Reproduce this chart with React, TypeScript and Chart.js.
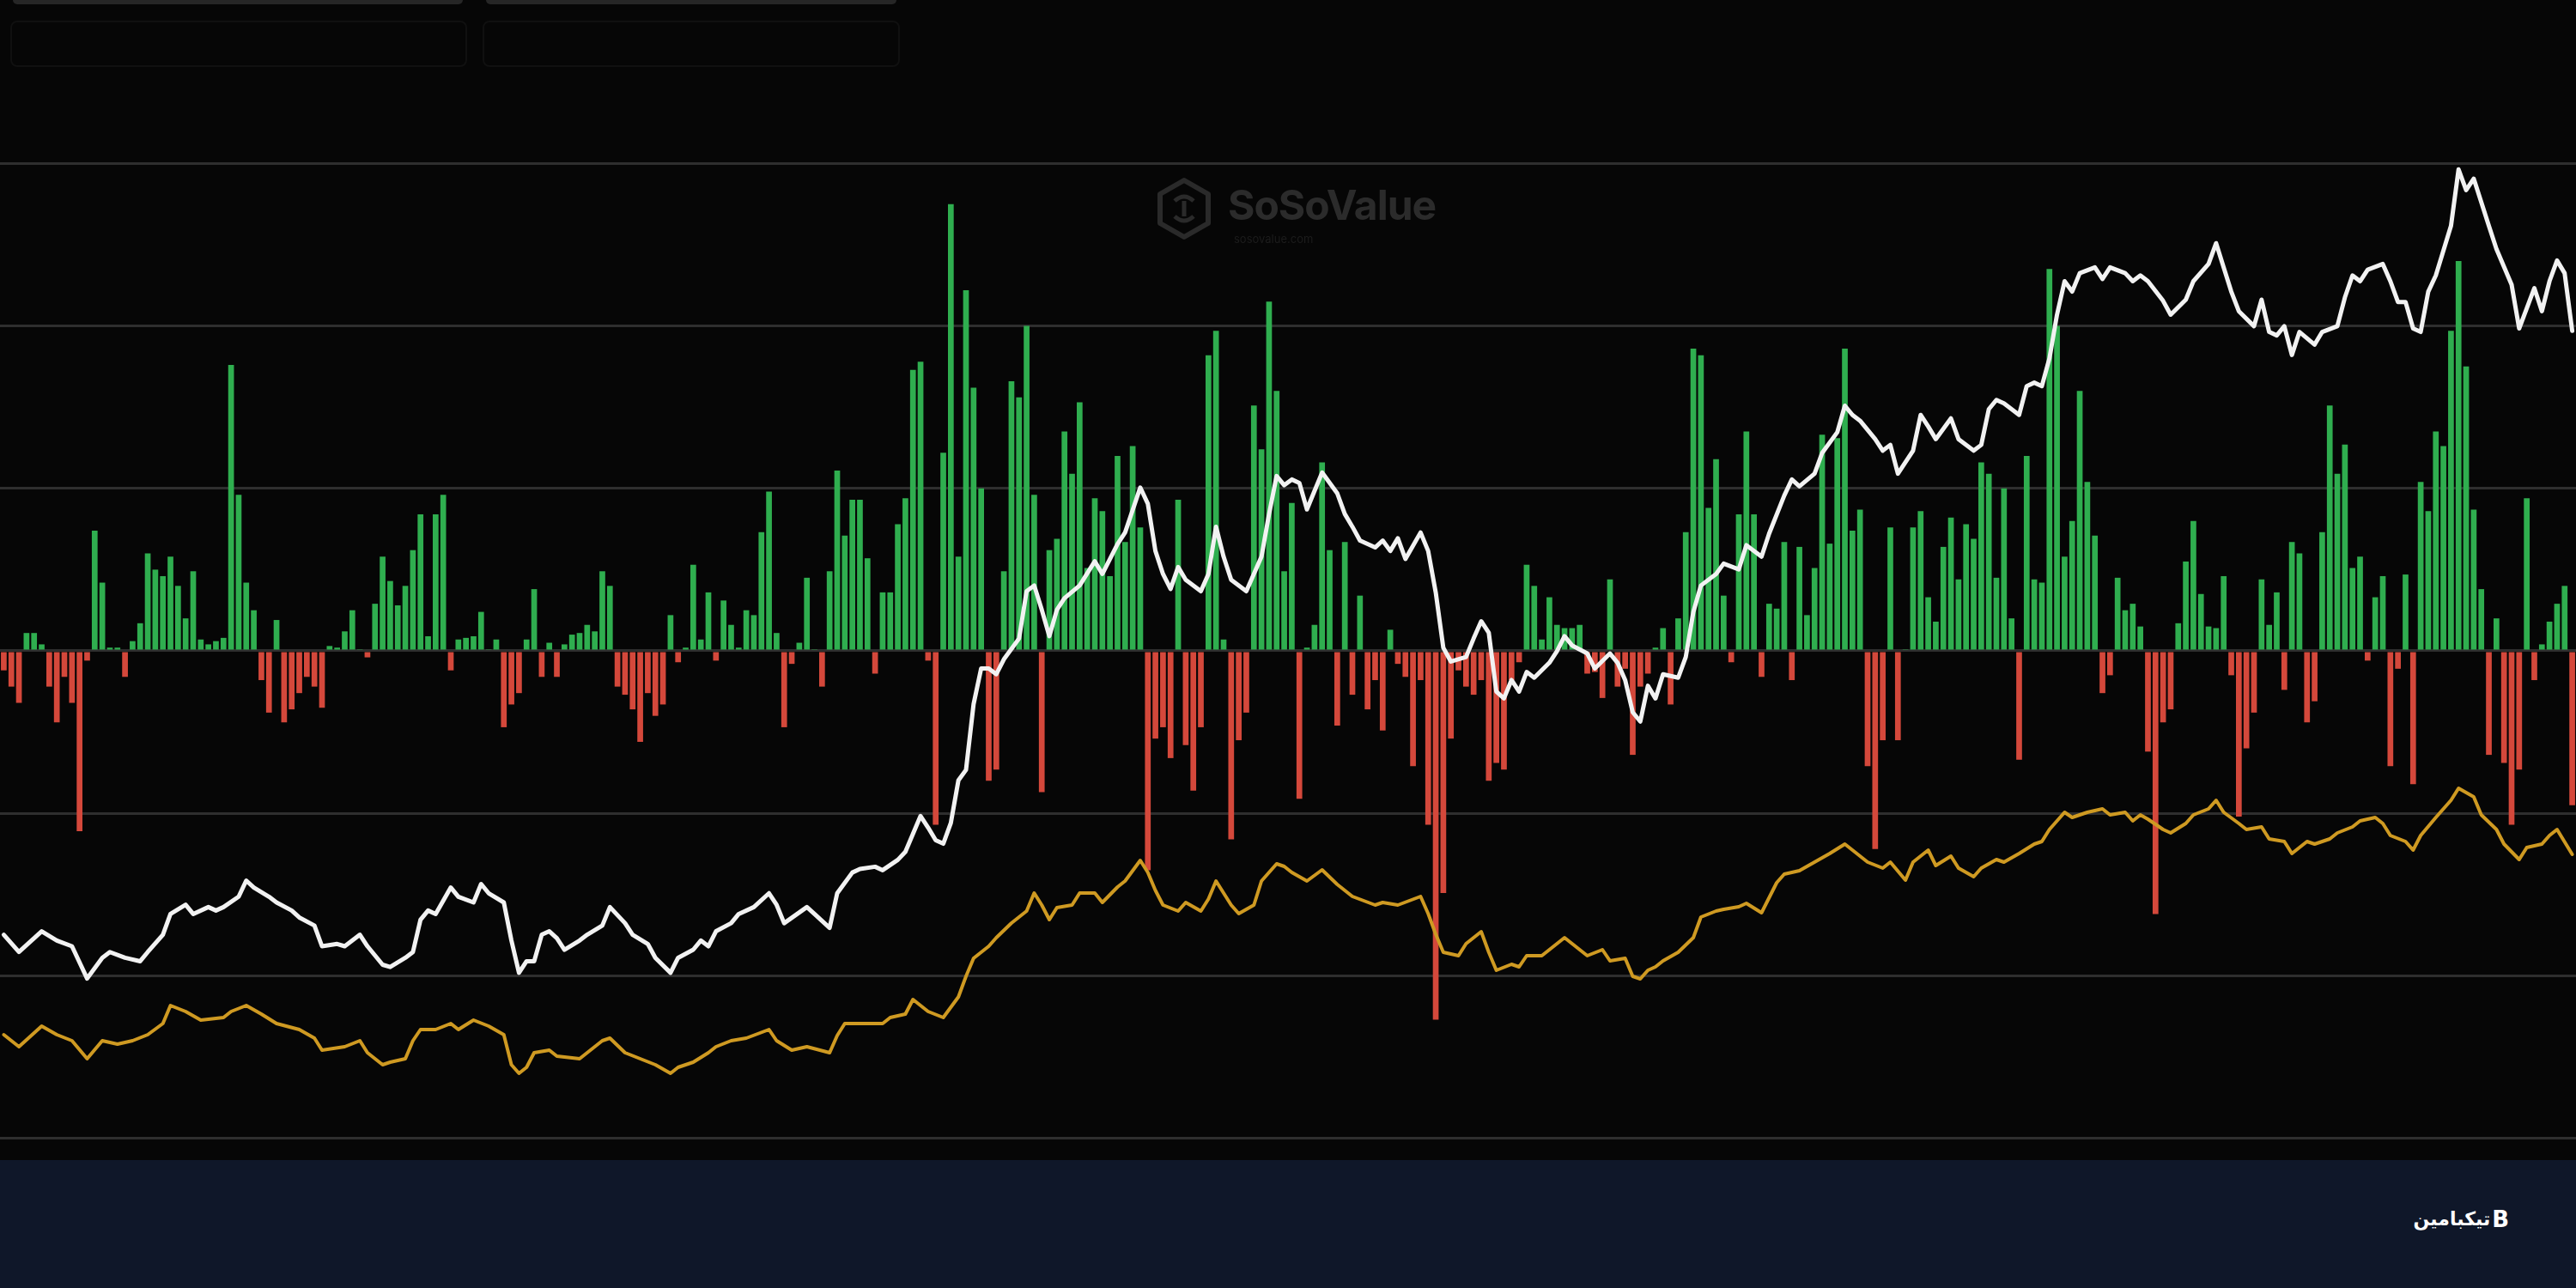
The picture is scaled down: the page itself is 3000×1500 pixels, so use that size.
import React, { useEffect, useRef } from "react";
import { Chart, registerables } from "chart.js";

Chart.register(...registerables);

// Daily net flow ($M), one bar per trading day
const NET_FLOW = [
  -60, -110, -160, 55, 55, 20, -110, -220, -80, -160,
  -555, -30, 370, 210, 10, 10, -80, 30, 85, 300,
  250, 230, 290, 200, 100, 245, 35, 20, 30, 40,
  880, 480, 210, 125, -90, -190, 95, -220, -180, -130,
  -80, -110, -175, 15, 10, 60, 125, 5, -20, 145,
  290, 215, 140, 200, 310, 420, 45, 420, 480, -60,
  35, 40, 45, 120, 5, 35, -235, -165, -130, 35,
  190, -80, 25, -80, 20, 50, 55, 80, 60, 245,
  200, -110, -135, -180, -280, -130, -200, -165, 110, -35,
  10, 265, 35, 180, -30, 155, 80, 10, 125, 110,
  365, 490, 55, -235, -40, 25, 225, 5, -110, 245,
  555, 355, 465, 465, 285, -70, 180, 180, 390, 470,
  865, 890, -30, -535, 610, 1375, 290, 1110, 810, 500,
  -400, -365, 245, 830, 780, 1000, 480, -435, 310, 345,
  675, 545, 765, 255, 470, 430, 230, 600, 335, 630,
  380, -675, -270, -235, -330, 465, -290, -430, -235, 910,
  985, 35, -580, -275, -190, 755, 620, 1075, 800, 245,
  455, -455, 10, 80, 580, 310, -230, 335, -135, 170,
  -180, -90, -245, 65, -40, -80, -355, -90, -535, -1135,
  -745, -270, -60, -110, -135, -90, -400, -345, -365, -90,
  -35, 265, 200, 35, 165, 80, 70, 70, 80, -70,
  -65, -145, 220, -110, -55, -320, -110, -70, 10, 70,
  -165, 100, 365, 930, 910, 440, 590, 170, -35, 420,
  675, 420, -80, 145, 130, 335, -90, 320, 110, 255,
  665, 330, 655, 930, 370, 435, -355, -610, -275, 380,
  -275, 5, 380, 430, 165, 90, 320, 410, 220, 390,
  345, 580, 545, 225, 500, 100, -335, 600, 220, 210,
  1175, 1000, 290, 400, 800, 520, 355, -130, -75, 225,
  125, 145, 75, -310, -810, -220, -180, 85, 275, 400,
  175, 75, 70, 230, -75, -510, -300, -190, 220, 80,
  180, -120, 335, 300, -220, -155, 365, 755, 545, 635,
  255, 290, -30, 165, 230, -355, -55, 235, -410, 520,
  430, 675, 630, 985, 1200, 875, 435, 190, -320, 100,
  -345, -535, -365, 470, -90, 20, 90, 145, 200, -475,
];

// BTC price ($K), read at these day indices
const PRICE_DAY = [
  0, 2, 5, 7, 9, 11, 13, 14, 16, 18, 19, 21, 22, 24, 25, 27, 28, 29, 31, 32, 33, 35, 36, 38, 39, 41, 42, 44, 45, 47, 48, 50, 51, 53, 54, 55, 56,
  57, 59, 60, 62, 63, 64, 66, 67, 68, 69, 70, 71, 72, 73, 74, 76, 77, 79, 80, 82, 83, 85, 86, 88, 89, 91, 92, 93, 94, 96, 97, 99, 101, 102, 103, 106, 107, 109, 110, 112,
  113, 115, 116, 118, 119, 121, 122, 123, 124, 125, 126, 127, 128, 129, 130, 131, 132, 134, 135, 136, 137, 138, 139, 140, 142, 144, 145, 147, 148, 150, 151, 152, 153, 154, 155, 156, 158, 159, 160, 161, 162, 164, 166, 167, 168, 169,
  170, 171, 172, 173, 174, 176, 177, 178, 179, 181, 182, 183, 184, 185, 187, 188, 189, 190, 191, 193, 194, 195, 196, 197, 198, 199, 200, 201, 202, 204, 205, 206, 207, 209, 210, 212, 213, 214, 215, 216, 217, 218, 219, 221, 222, 223, 224, 226,
  227, 229, 230, 232, 233, 235, 236, 237, 239, 240, 242, 243, 244, 245, 247, 248, 249, 250, 252, 253, 254, 255, 257, 258, 260, 261, 262, 263, 264, 266, 267, 268, 269, 270, 271, 272, 273, 274, 276, 277, 278, 280, 281, 282,
  283, 285, 286, 288, 289, 291, 292, 293, 294, 295, 297, 298, 299, 300, 301, 302, 303, 305, 306, 308, 309, 310, 311, 312, 314, 315, 316, 317, 318, 319, 320, 321, 323, 324, 325, 326, 328, 329, 331, 332, 334, 335, 336, 337, 338, 339,
];
const PRICE_K = [
  43.9, 42.4, 44.2, 43.4, 42.9, 40.1, 41.9, 42.4, 41.9, 41.6, 42.4, 43.9, 45.7, 46.5, 45.7, 46.3, 46.0, 46.3, 47.2, 48.6, 48.0, 47.2, 46.7, 46.0, 45.4, 44.7, 42.9, 43.1, 42.9, 43.9, 42.9, 41.3, 41.1, 41.9, 42.4, 45.2, 46.0,
  45.7, 48.0, 47.2, 46.7, 48.3, 47.5, 46.7, 43.4, 40.6, 41.6, 41.6, 43.9, 44.2, 43.6, 42.6, 43.4, 43.9, 44.7, 46.3, 44.9, 43.9, 43.1, 41.9, 40.6, 41.9, 42.6, 43.4, 42.9, 44.2, 44.9, 45.7, 46.3, 47.5, 46.5, 44.9, 46.3, 45.7, 44.5, 47.5, 49.3,
  49.6, 49.8, 49.5, 50.4, 51.1, 54.2, 53.2, 52.1, 51.8, 53.6, 57.3, 58.2, 63.9, 67.0, 67.0, 66.5, 67.8, 69.6, 73.7, 74.2, 72.1, 69.8, 72.1, 73.1, 74.2, 76.3, 75.2, 77.8, 78.8, 82.7, 81.3, 77.2, 75.2, 73.9, 75.8, 74.7, 73.7, 75.2, 79.3, 76.7, 74.7, 73.7, 76.7, 80.4, 83.7, 82.9,
  83.4, 83.1, 80.8, 82.4, 84.0, 82.2, 80.4, 79.3, 78.1, 77.5, 78.1, 77.2, 78.3, 76.5, 78.8, 77.2, 73.6, 68.8, 67.6, 68.0, 69.6, 71.1, 70.1, 65.0, 64.4, 66.0, 65.0, 66.7, 66.2, 67.5, 68.5, 69.8, 69.0, 68.3, 67.0, 68.3, 67.5, 66.0, 63.2, 62.4, 65.5, 64.4, 66.5, 66.2, 68.0, 71.9, 74.2, 75.2,
  76.1, 75.6, 77.7, 76.7, 78.7, 82.0, 83.4, 82.8, 83.9, 85.7, 87.5, 89.8, 89.0, 88.5, 86.9, 85.9, 86.4, 83.9, 85.9, 89.0, 88.0, 86.9, 88.7, 86.9, 85.9, 86.4, 89.5, 90.3, 90.0, 89.0, 91.5, 91.8, 91.5, 93.9, 97.7, 100.6, 99.7, 101.3, 101.8, 100.8, 101.8, 101.3, 100.6, 101.1,
  100.6, 98.9, 97.7, 99.0, 100.6, 102.1, 103.9, 101.8, 99.7, 98.0, 96.7, 99.0, 96.2, 95.9, 96.7, 94.2, 96.2, 95.1, 96.2, 96.7, 99.2, 101.1, 100.6, 101.6, 102.1, 100.6, 98.8, 98.8, 96.5, 96.2, 99.7, 101.1, 105.4, 110.3, 108.5, 109.5, 105.4, 103.4, 100.3, 96.5, 100.0, 98.0, 100.6, 102.4, 101.3, 96.3,
];

// Total net assets ($B), read at these day indices
const ASSET_DAY = [
  0, 2, 5, 7, 9, 11, 13, 15, 17, 19, 21, 22, 24, 26, 29, 30, 32, 34, 36, 39, 41, 42, 45, 47, 48, 50, 51, 53, 54, 55,
  57, 59, 60, 62, 64, 66, 67, 68, 69, 70, 72, 73, 76, 77, 79, 80, 82, 84, 86, 88, 89, 91, 93, 94, 96, 98, 101, 102, 104, 106, 109, 110, 111,
  113, 116, 117, 119, 120, 122, 124, 126, 127, 128, 130, 131, 133, 135, 136, 137, 138, 139, 141, 142, 144, 145, 147, 148, 150, 151, 152, 153, 155, 156, 158, 159, 160, 162, 163, 165, 166, 168, 169,
  170, 172, 174, 176, 178, 181, 182, 184, 187, 188, 189, 190, 192, 193, 195, 196, 197, 199, 200, 201, 203, 204, 206, 207, 209, 211, 212, 214, 215, 216, 217, 218, 219, 221, 223, 224, 226,
  227, 229, 230, 232, 234, 235, 237, 239, 241, 243, 244, 246, 248, 249, 251, 252, 254, 255, 257, 258, 260, 261, 263, 264, 266, 268, 269, 270, 272, 273, 275, 277, 278, 280, 281, 282,
  283, 285, 286, 288, 289, 291, 292, 293, 295, 296, 298, 299, 301, 302, 304, 305, 307, 308, 310, 311, 313, 314, 315, 317, 318, 319, 321, 323, 324, 326, 327, 329, 330, 332, 333, 335, 336, 337, 339,
];
const ASSET_B = [
  19.75, 19.05, 20.25, 19.75, 19.4, 18.35, 19.4, 19.2, 19.4, 19.75, 20.4, 21.45, 21.1, 20.6, 20.75, 21.1, 21.45, 20.95, 20.4, 20.05, 19.55, 18.85, 19.05, 19.4, 18.7, 18.0, 18.15, 18.35, 19.4, 20.05,
  20.05, 20.4, 20.05, 20.6, 20.25, 19.75, 18.0, 17.5, 17.85, 18.7, 18.85, 18.5, 18.35, 18.7, 19.4, 19.55, 18.7, 18.35, 18.0, 17.5, 17.85, 18.15, 18.7, 19.05, 19.4, 19.55, 20.05, 19.4, 18.85, 19.05, 18.7, 19.7, 20.4,
  20.4, 20.4, 20.75, 20.95, 21.8, 21.1, 20.75, 21.95, 23.15, 24.2, 24.9, 25.4, 26.25, 26.95, 28.0, 27.3, 26.45, 27.15, 27.3, 28.0, 28.0, 27.45, 28.35, 28.7, 29.9, 29.2, 28.15, 27.3, 26.95, 27.45, 26.95, 27.65, 28.7, 27.3, 26.8, 27.3, 28.7, 29.7, 29.55,
  29.2, 28.7, 29.35, 28.5, 27.8, 27.3, 27.45, 27.3, 27.8, 26.8, 25.6, 24.55, 24.35, 25.05, 25.75, 24.55, 23.5, 23.85, 23.7, 24.35, 24.35, 24.7, 25.4, 25.05, 24.35, 24.7, 24.05, 24.2, 23.15, 23.0, 23.5, 23.7, 24.05, 24.55, 25.4, 26.6, 26.95,
  27.05, 27.2, 27.4, 26.85, 28.6, 29.1, 29.3, 29.8, 30.3, 30.85, 30.5, 29.8, 29.45, 29.8, 28.75, 29.8, 30.5, 29.6, 30.15, 29.45, 28.95, 29.45, 29.95, 29.8, 30.3, 30.85, 31.0, 31.7, 32.7, 32.4, 32.7, 32.9, 32.55, 32.7, 32.2, 32.55,
  32.3, 31.7, 31.5, 32.05, 32.55, 32.9, 33.4, 32.7, 32.05, 31.7, 31.85, 31.15, 31.0, 30.3, 31.0, 30.85, 31.15, 31.5, 31.85, 32.2, 32.4, 32.05, 31.35, 31.0, 30.5, 31.35, 32.4, 33.4, 34.1, 33.6, 32.55, 31.7, 30.85, 29.95, 30.65, 30.85, 31.35, 31.7, 30.25,
];

const GRID_TICKS = [-1500, -1000, -500, 0, 500, 1000, 1500];

const GREEN = "#2fae4f";
const RED = "#d4483b";
const WHITE = "#f2f2f2";
const GOLD = "#cf9a22";

const PLOT_W = 3000;
const PLOT_H = 1351;

export default function App() {
  const ref = useRef<HTMLCanvasElement | null>(null);

  useEffect(() => {
    document.body.style.margin = "0";
    document.body.style.background = "#060606";
    const canvas = ref.current;
    if (!canvas) return;
    const chart = new Chart(canvas, {
      type: "bar",
      data: {
        datasets: [
          {
            type: "line",
            label: "BTC Price",
            data: PRICE_DAY.map((d, i) => ({ x: d, y: PRICE_K[i] })),
            yAxisID: "yPrice",
            borderColor: WHITE,
            borderWidth: 5,
            borderJoinStyle: "round",
            borderCapStyle: "round",
            pointRadius: 0,
            tension: 0,
            order: 0,
          } as any,
          {
            type: "line",
            label: "Total Net Assets",
            data: ASSET_DAY.map((d, i) => ({ x: d, y: ASSET_B[i] })),
            yAxisID: "yAssets",
            borderColor: GOLD,
            borderWidth: 4,
            borderJoinStyle: "round",
            borderCapStyle: "round",
            pointRadius: 0,
            tension: 0,
            order: 0,
          } as any,
          {
            type: "bar",
            label: "Daily Net Inflow",
            data: NET_FLOW.map((v, i) => ({ x: i, y: v })),
            yAxisID: "y",
            backgroundColor: NET_FLOW.map((v) => (v >= 0 ? GREEN : RED)),
            borderWidth: 0,
            barPercentage: 0.76,
            categoryPercentage: 1,
            order: 1,
          } as any,
        ],
      },
      options: {
        responsive: false,
        animation: false,
        devicePixelRatio: 1,
        layout: { padding: 0 },
        plugins: { legend: { display: false }, tooltip: { enabled: false } },
        scales: {
          x: {
            type: "linear",
            min: -0.5,
            max: NET_FLOW.length - 0.5,
            offset: false,
            display: false,
          },
          y: {
            type: "linear",
            min: -1567,
            max: 2003,
            afterBuildTicks: (s: any) => {
              s.ticks = GRID_TICKS.map((v) => ({ value: v }));
            },
            grid: { color: "#2e2e2e", lineWidth: 3, drawTicks: false },
            border: { display: false },
            ticks: { display: false },
          },
          yPrice: { type: "linear", display: false, min: 24.35, max: 125 },
          yAssets: { type: "linear", display: false, min: 12.45, max: 80 },
        },
      } as any,
    });
    return () => chart.destroy();
  }, []);

  return (
    <div
      style={{
        position: "relative",
        width: 3000,
        height: 1500,
        background: "#060606",
        overflow: "hidden",
      }}
    >
      <canvas
        ref={ref}
        width={PLOT_W}
        height={PLOT_H}
        style={{ position: "absolute", left: 0, top: 0, display: "block" }}
      />
      {/* cropped tabs at the very top */}
      <div style={{ position: "absolute", left: 15, top: 0, width: 524, height: 5, background: "#262626", borderRadius: "0 0 6px 6px" }} />
      <div style={{ position: "absolute", left: 566, top: 0, width: 478, height: 5, background: "#262626", borderRadius: "0 0 6px 6px" }} />
      <div style={{ position: "absolute", left: 12, top: 24, width: 528, height: 50, border: "2px solid #101010", borderRadius: 8 }} />
      <div style={{ position: "absolute", left: 562, top: 24, width: 482, height: 50, border: "2px solid #101010", borderRadius: 8 }} />

      {/* watermark */}
      <svg
        style={{ position: "absolute", left: 1346, top: 206 }}
        width={66}
        height={74}
        viewBox="0 0 66 74"
      >
        <polygon
          points="33,4 61,20 61,54 33,70 5,54 5,20"
          fill="none"
          stroke="#2a2a2a"
          strokeWidth={6}
          strokeLinejoin="round"
        />
        <path d="M22 28 Q33 18 44 28 M22 46 Q33 56 44 46 M33 28 L33 46" stroke="#2a2a2a" strokeWidth={5} fill="none" />
      </svg>
      <div
        style={{
          position: "absolute",
          left: 1430,
          top: 214,
          fontFamily: "Inter, 'DejaVu Sans', sans-serif",
          fontWeight: 700,
          fontSize: 48,
          lineHeight: "50px",
          color: "#2b2b2b",
          letterSpacing: -1,
        }}
      >
        SoSoValue
      </div>
      <div
        style={{
          position: "absolute",
          left: 1437,
          top: 270,
          fontFamily: "Inter, 'DejaVu Sans', sans-serif",
          fontSize: 13,
          color: "#1c1c1c",
        }}
      >
        sosovalue.com
      </div>

      {/* bottom band */}
      <div
        style={{
          position: "absolute",
          left: 0,
          top: PLOT_H,
          width: 3000,
          height: 1500 - PLOT_H,
          background: "#0f1729",
        }}
      />
      <div
        style={{
          position: "absolute",
          left: 2780,
          top: 1404,
          width: 142,
          display: "flex",
          justifyContent: "flex-end",
          alignItems: "center",
          gap: 2,
          color: "#ffffff",
        }}
      >
        <span
          dir="rtl"
          style={{ fontFamily: "'DejaVu Sans', sans-serif", fontWeight: 700, fontSize: 22, lineHeight: "32px" }}
        >
          تیکبامین
        </span>
        <span style={{ fontFamily: "'DejaVu Sans', sans-serif", fontWeight: 700, fontSize: 26, lineHeight: "32px" }}>
          B
        </span>
      </div>
    </div>
  );
}
